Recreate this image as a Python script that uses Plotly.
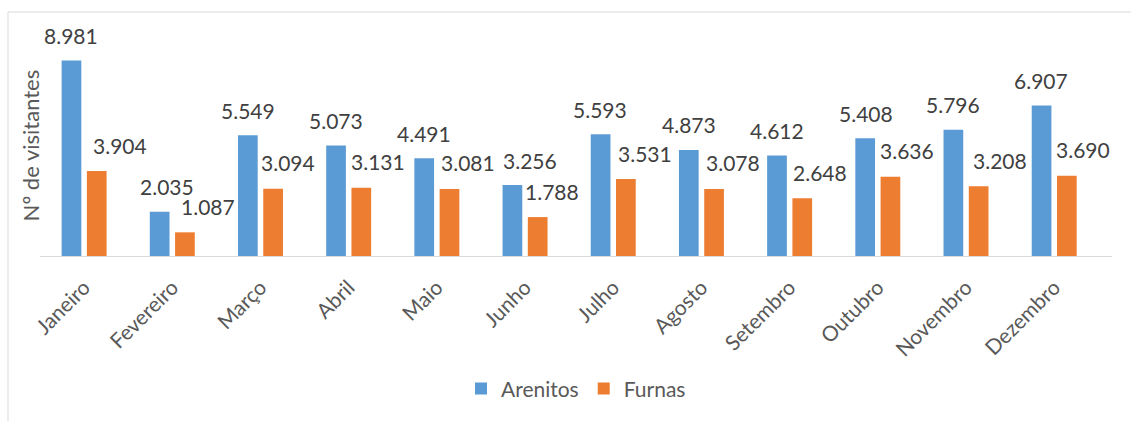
import plotly.graph_objects as go

meses = ["Janeiro", "Fevereiro", "Março", "Abril", "Maio", "Junho",
         "Julho", "Agosto", "Setembro", "Outubro", "Novembro", "Dezembro"]
arenitos = [8981, 2035, 5549, 5073, 4491, 3256, 5593, 4873, 4612, 5408, 5796, 6907]
furnas = [3904, 1087, 3094, 3131, 3081, 1788, 3531, 3078, 2648, 3636, 3208, 3690]

# label horizontal offsets (px) relative to bar centre, as placed in the original
dx_arenitos = [0, 8, 0, 0, 0, 18, 0, 0, 0, 1, 0, 0]
dx_furnas = [23, 23, 15, 17, 18, 14, 19, 19, 18, 16, 21, 16]

BLUE = "#5B9BD5"
ORANGE = "#ED7D31"
FONT = "Lato"

def fmt(v):
    return f"{v:,}".replace(",", ".")

fig = go.Figure()
fig.add_trace(go.Bar(name="Arenitos", x=meses, y=arenitos, marker_color=BLUE,
                     marker_line_width=0))
fig.add_trace(go.Bar(name="Furnas", x=meses, y=furnas, marker_color=ORANGE,
                     marker_line_width=0))

L, R, T, B = 40, 19, 12, 163
W, H = 1131, 421
plot_w = W - L - R
cat_w = plot_w / len(meses)
bargap = 0.427
slot = cat_w * (1 - bargap) / 2

annotations = []
for i, m in enumerate(meses):
    annotations.append(dict(x=m, y=arenitos[i], xref="x", yref="y", text=fmt(arenitos[i]),
                            showarrow=False, xshift=-slot / 2 + dx_arenitos[i], yshift=25,
                            font=dict(family=FONT, size=21, color="#404040")))
    annotations.append(dict(x=m, y=furnas[i], xref="x", yref="y", text=fmt(furnas[i]),
                            showarrow=False, xshift=slot / 2 + dx_furnas[i], yshift=26,
                            font=dict(family=FONT, size=21, color="#404040")))

plot_h = H - T - B
annotations.append(dict(text="Nº de visitantes", xref="paper", yref="paper",
                        x=(30 - L) / plot_w, y=(H - B - 146.5) / plot_h,
                        textangle=-90, showarrow=False, xanchor="center", yanchor="middle",
                        font=dict(family=FONT, size=22, color="#595959")))

fig.update_layout(
    width=W, height=H,
    margin=dict(l=L, r=R, t=T, b=B, pad=0),
    paper_bgcolor="white", plot_bgcolor="white",
    barmode="group", bargap=bargap, bargroupgap=0.22,
    font=dict(family=FONT, color="#595959"),
    annotations=annotations,
    showlegend=True,
    legend=dict(orientation="h", x=0.5, xanchor="center",
                y=(H - B - 392) / plot_h, yanchor="middle",
                font=dict(family=FONT, size=21, color="#595959"),
                itemwidth=30, traceorder="normal"),
    shapes=[dict(type="rect", xref="paper", yref="paper",
                 x0=(8 - L) / plot_w, x1=1.2, y0=-2, y1=1.0,
                 line=dict(color="#D9D9D9", width=1), layer="below")],
)
fig.update_xaxes(showline=True, linecolor="#D9D9D9", linewidth=1, tickangle=-45,
                 ticks="", ticklabelstandoff=10,
                 tickfont=dict(family=FONT, size=21, color="#595959"),
                 showgrid=False)
fig.update_yaxes(range=[0, plot_h / 0.02195], showticklabels=False, showgrid=False,
                 zeroline=False, showline=False, ticks="")

fig.write_html("out.html", config={"displayModeBar": False},
               post_script="document.body.style.margin='0';")
